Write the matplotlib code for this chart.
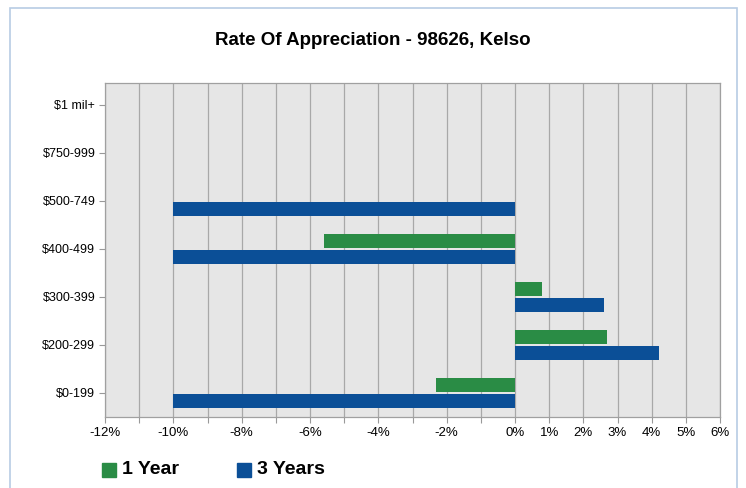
# Rate of appreciation chart - 98626, Kelso
import numpy as np
import matplotlib
matplotlib.use('Agg')
import matplotlib.pyplot as plt
from matplotlib.patches import Rectangle

plt.rcParams['font.family'] = ['Liberation Sans', 'DejaVu Sans']

# Data (percent)
categories = ['$0-199', '$200-299', '$300-399', '$400-499', '$500-749', '$750-999', '$1 mil+']
one_year = [-2.3, 2.7, 0.8, -5.6, 0, 0, 0]
three_years = [-10.0, 4.2, 2.6, -10.0, -10.0, 0, 0]
tick_vals = list(range(-12, 7))
tick_labels = [f'{v}%' if (v >= 0 or v % 2 == 0) else '' for v in tick_vals]

green = '#2A8C45'
blue = '#0B4F97'

fig = plt.figure(figsize=(7.46, 4.88), dpi=100)
ax = fig.add_axes([0.1408, 0.1455, 0.8244, 0.6845])

y = np.arange(len(categories))
h = 0.29
ax.barh(y + 0.17, one_year, height=h, color=green, zorder=3)
ax.barh(y - 0.17, three_years, height=h, color=blue, zorder=3)

ax.set_xlim(-12, 6)
ax.set_ylim(-0.5, 6.45)
ax.set_facecolor('#E6E6E6')
ax.set_xticks(tick_vals)
ax.set_xticklabels(tick_labels, fontsize=9.5)
ax.set_yticks(y)
ax.set_yticklabels(categories, fontsize=9)
ax.grid(axis='x', color='#A8A8A8', linewidth=0.9, zorder=1)
ax.tick_params(axis='both', length=4, color='#999999', pad=3)
for s in ax.spines.values():
    s.set_color('#A0A0A0')
    s.set_linewidth(0.9)

fig.text(0.5, 0.918, 'Rate Of Appreciation - 98626, Kelso', ha='center', va='center',
         fontsize=13.5, fontweight='bold')

# legend at bottom left
fig.patches.append(Rectangle((102 / 746, 1 - 477 / 488), 14 / 746, 14 / 488,
                             transform=fig.transFigure, color=green))
fig.text(122 / 746, 1 - 470 / 488, '1 Year', fontsize=14, fontweight='bold', va='center')
fig.patches.append(Rectangle((237 / 746, 1 - 477 / 488), 14 / 746, 14 / 488,
                             transform=fig.transFigure, color=blue))
fig.text(257 / 746, 1 - 470 / 488, '3 Years', fontsize=14, fontweight='bold', va='center')

# outer light blue frame
fig.patches.append(Rectangle((10 / 746, -0.05), 727 / 746, 1 - 8 / 488 + 0.05,
                             transform=fig.transFigure, fill=False,
                             edgecolor='#B8CCE4', linewidth=1.2))

fig.savefig('out.png', dpi=100)
